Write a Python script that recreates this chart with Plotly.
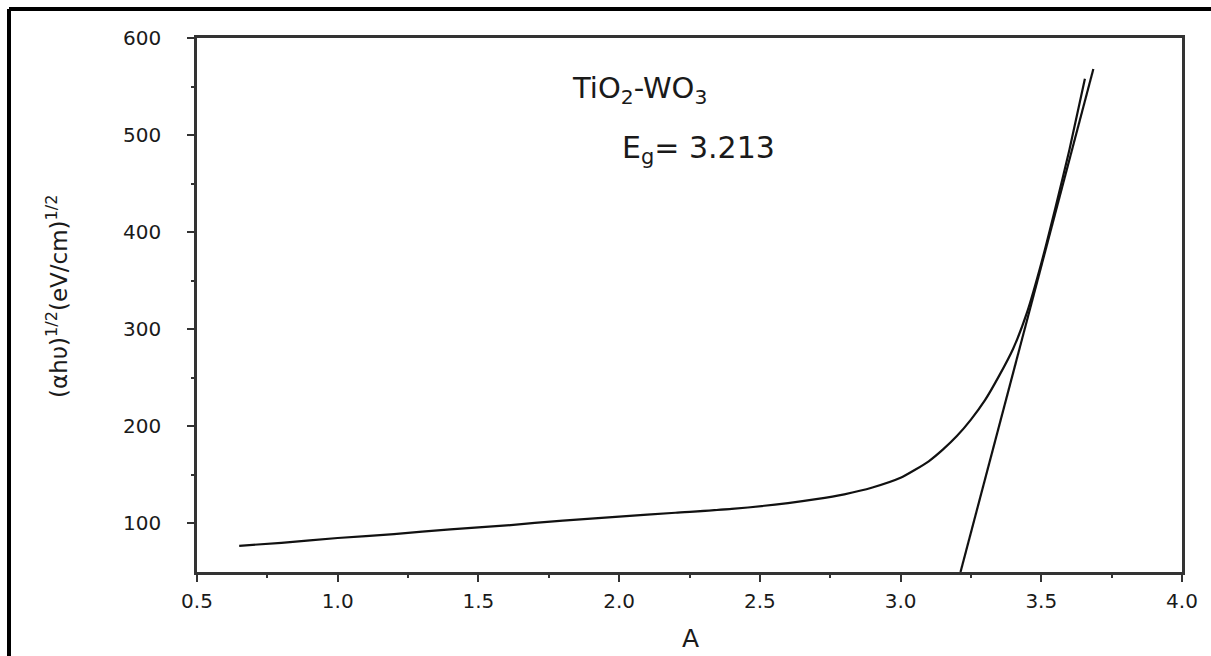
import plotly.graph_objects as go

# Measured curve (Tauc plot)
curve_x = [0.65, 0.8, 1.0, 1.2, 1.4, 1.6, 1.8, 2.0, 2.2, 2.4, 2.6, 2.7, 2.8, 2.9,
           3.0, 3.05, 3.1, 3.15, 3.2, 3.25, 3.3, 3.35, 3.4, 3.45, 3.5, 3.55, 3.6, 3.655]
curve_y = [77, 80, 85, 89, 94, 98, 103, 107, 111, 115, 121, 125, 130, 137,
           147, 155, 164, 176, 190, 207, 227, 252, 280, 318, 368, 425, 485, 558]

# Linear fit (tangent) line
fit_x = [3.213, 3.685]
fit_y = [50, 568]

x_ticks = [0.5, 1.0, 1.5, 2.0, 2.5, 3.0, 3.5, 4.0]
x_ticklabels = ["0.5", "1.0", "1.5", "2.0", "2.5", "3.0", "3.5", "4.0"]
y_ticks = [100, 200, 300, 400, 500, 600]
y_ticklabels = ["100", "200", "300", "400", "500", "600"]

FONT = "DejaVu Sans, Liberation Sans, Arial"

fig = go.Figure()
fig.add_trace(go.Scatter(x=curve_x, y=curve_y, mode="lines",
                         line=dict(color="#111", width=2.2, shape="spline", smoothing=0.6),
                         showlegend=False))
fig.add_trace(go.Scatter(x=fit_x, y=fit_y, mode="lines", line=dict(color="#111", width=2.2),
                         showlegend=False))

axcommon = dict(showgrid=False, zeroline=False, showline=True, linecolor="#333", linewidth=2.5,
                mirror=True, ticks="outside", tickcolor="#333", tickwidth=2, ticklen=7,
                tickfont=dict(family=FONT, size=20, color="#1a1a1a"),
                minor=dict(ticks="outside", ticklen=3, tickwidth=2, tickcolor="#333"))

fig.update_xaxes(range=[0.5, 4.0], tickvals=x_ticks, ticktext=x_ticklabels,
                 minor_tickvals=[0.75, 1.25, 1.75, 2.25, 2.75, 3.25, 3.75],
                 ticklabelstandoff=2, **axcommon)
fig.update_yaxes(range=[50, 600], tickvals=y_ticks, ticktext=y_ticklabels,
                 minor_tickvals=[150, 250, 350, 450, 550], ticklabelstandoff=22, **axcommon)

W, H = 1211, 656
L, R, T, B = 197, 29, 38, 84
pw, ph = W - L - R, H - T - B

fig.update_layout(
    width=W, height=H,
    margin=dict(l=L, r=R, t=T, b=B),
    plot_bgcolor="white", paper_bgcolor="white",
    font=dict(family=FONT, color="#1a1a1a"),
)


def px(xp):
    return (xp - L) / pw


def py(yp):
    return (H - B - yp) / ph


fig.add_annotation(text="TiO<sub>2</sub>-WO<sub>3</sub>", xref="paper", yref="paper",
                   x=px(570), y=py(90), xanchor="left", yanchor="middle", showarrow=False,
                   font=dict(size=29, color="#1a1a1a"))
fig.add_annotation(text="E<sub>g</sub>= 3.213", xref="paper", yref="paper",
                   x=px(620), y=py(150), xanchor="left", yanchor="middle", showarrow=False,
                   font=dict(size=30, color="#1a1a1a"))
fig.add_annotation(text="A", xref="paper", yref="paper", x=px(690), y=py(638),
                   xanchor="center", yanchor="middle", showarrow=False,
                   font=dict(size=25, color="#1a1a1a"))
fig.add_annotation(text="(αhυ)<sup>1/2</sup>(eV/cm)<sup>1/2</sup>", xref="paper", yref="paper",
                   x=px(57), y=py(297), xanchor="center", yanchor="middle", textangle=-90,
                   showarrow=False, font=dict(size=23, color="#1a1a1a"))

# Outer black frame (left and top edges)
fig.add_shape(type="line", xref="paper", yref="paper", x0=px(9), x1=px(9), y0=py(9), y1=py(660),
              line=dict(color="black", width=4))
fig.add_shape(type="line", xref="paper", yref="paper", x0=px(9), x1=px(1215), y0=py(9), y1=py(9),
              line=dict(color="black", width=4))

fig.write_html("out.html")
